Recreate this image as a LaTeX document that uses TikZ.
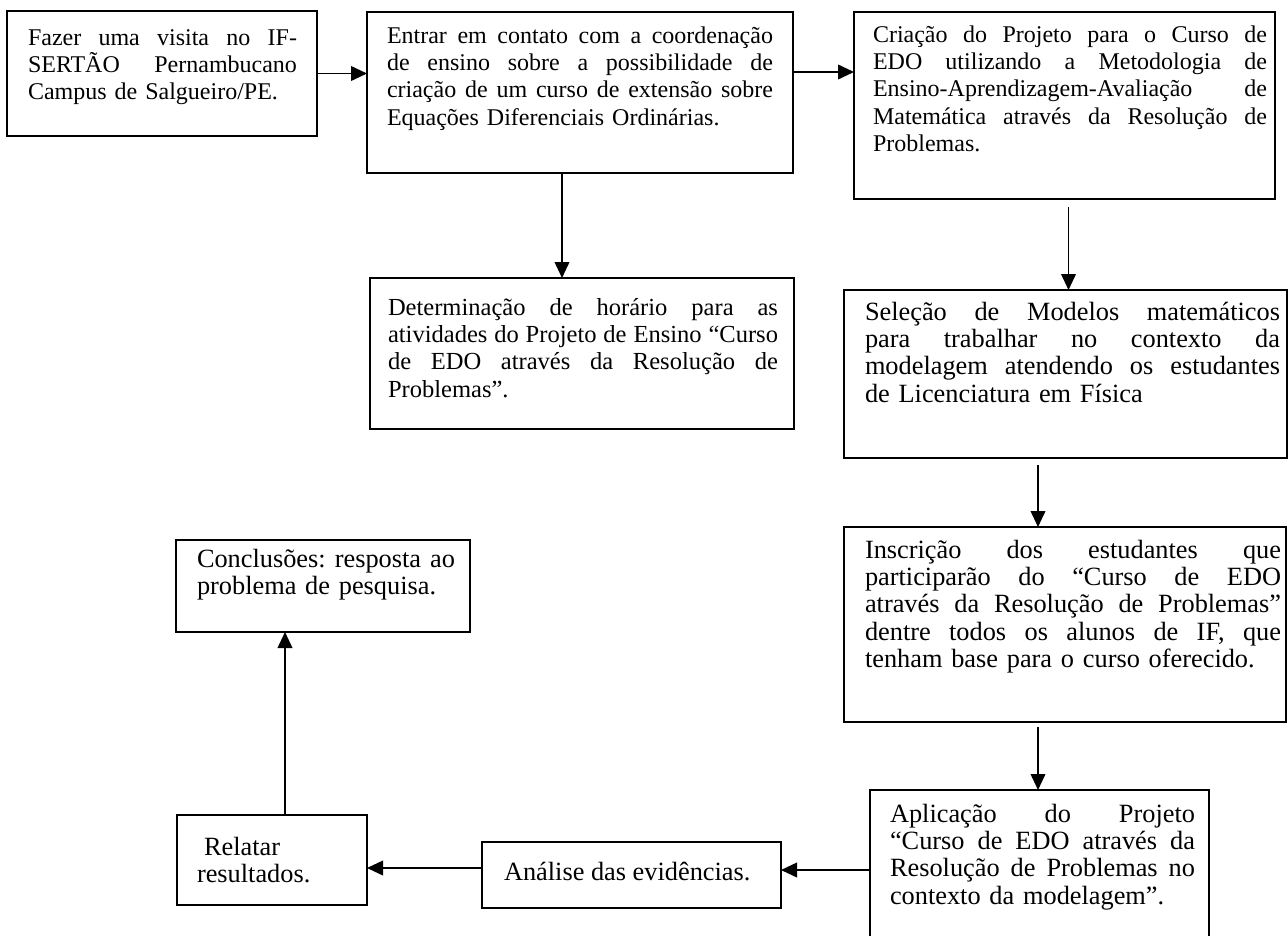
\documentclass[tikz,border=0pt]{standalone}
\usepackage{fontspec}
\setmainfont{Liberation Serif}
\usetikzlibrary{arrows.meta,calc}
\newdimen\px \px=0.75pt
% \tw holds the text width (in px) of the current box text
\def\tw{100}
% a justified line (extra room shared evenly by the spaces) and a last line
\newcommand\jline[1]{\hbox to \tw\px{\spaceskip=\fontdimen2\font plus 1fil\relax
  \xspaceskip=\spaceskip #1}\par}
\newcommand\lline[1]{\hbox{#1}\par}
\begin{document}
\begin{tikzpicture}[x=0.75pt,y=-0.75pt,
  stepbox/.style={draw,line width=1.5pt,inner sep=0pt,outer sep=0pt,anchor=north west},
  txt/.style={inner sep=0pt,outer sep=0pt,anchor=base west,
    font=\fontsize{19.75}{20.5}\selectfont\frenchspacing},
  txtsmall/.style={txt,font=\fontsize{18}{20.5}\selectfont\frenchspacing},
  tw/.style={text width=#1\px,execute at begin node={\def\tw{#1}}},
  arr/.style={line width=1.3pt,-{Triangle[length=12pt,width=11pt]}}]
\clip (0,0) rectangle (1288,935);

% boxes
\node[stepbox,minimum width=310\px,minimum height=125\px] (b1) at (7,11) {};
\node[stepbox,minimum width=426\px,minimum height=161\px] (b2) at (367,12) {};
\node[stepbox,minimum width=421\px,minimum height=187\px] (b3) at (854,12) {};
\node[stepbox,minimum width=424\px,minimum height=151\px] (b4) at (370,278) {};
\node[stepbox,minimum width=443\px,minimum height=168\px] (b5) at (844,290) {};
\node[stepbox,minimum width=442\px,minimum height=195\px] (b6) at (844,527) {};
\node[stepbox,minimum width=339\px,minimum height=180\px] (b7) at (870,790) {};
\node[stepbox,minimum width=299\px,minimum height=66\px] (b8) at (482,842) {};
\node[stepbox,minimum width=190\px,minimum height=90\px] (b9) at (177,815) {};
\node[stepbox,minimum width=294\px,minimum height=92\px] (b10) at (176,540) {};

% texts
\node[txtsmall,tw=269] (t1) at (28,45) {%
  \jline{Fazer uma visita no IF-}
  \jline{SERTÃO Pernambucano}
  \lline{Campus de Salgueiro/PE.}};
\node[txtsmall,tw=386] (t2) at (387,43) {%
  \jline{Entrar em contato com a coordenação}
  \jline{de ensino sobre a possibilidade de}
  \jline{criação de um curso de extensão sobre}
  \lline{Equações Diferenciais Ordinárias.}};
\node[txtsmall,tw=394] (t3) at (873,42) {%
  \jline{Criação do Projeto para o Curso de}
  \jline{EDO utilizando a Metodologia de}
  \jline{Ensino-Aprendizagem-Avaliação de}
  \jline{Matemática através da Resolução de}
  \lline{Problemas.}};
\node[txt,font=\fontsize{18.4}{20.5}\selectfont\frenchspacing,tw=390] (t4) at (388,315) {%
  \jline{Determinação de horário para as}
  \jline{atividades do Projeto de Ensino “Curso}
  \jline{de EDO através da Resolução de}
  \lline{Problemas”.}};
\node[txt,tw=415] (t5) at (865,320) {%
  \jline{Seleção de Modelos matemáticos}
  \jline{para trabalhar no contexto da}
  \jline{modelagem atendendo os estudantes}
  \lline{de Licenciatura em Física}};
\node[txt,tw=416] (t6) at (865,558) {%
  \jline{Inscrição dos estudantes que}
  \jline{participarão do “Curso de EDO}
  \jline{através da Resolução de Problemas”}
  \jline{dentre todos os alunos de IF, que}
  \lline{tenham base para o curso oferecido.}};
\node[txt,tw=305] (t7) at (890,822) {%
  \jline{Aplicação do Projeto}
  \jline{“Curso de EDO através da}
  \jline{Resolução de Problemas no}
  \lline{contexto da modelagem”.}};
\node[txt] (t8) at (504,880) {Análise das evidências.};
\node[txt,tw=160] (t9) at (197,855) {%
  \lline{\hspace*{7\px}Relatar}
  \lline{resultados.}};
\node[txt,tw=258] (t10) at (197,567) {%
  \jline{Conclusões: resposta ao}
  \lline{problema de pesquisa.}};

% connector end points
\coordinate (p23) at ($(b2.north east)+(0,60)$);
\coordinate (p24) at ($(b2.south)+(-18,0)$);
\coordinate (p35) at ($(b3.south)+(4,8)$);
\coordinate (p56) at ($(b5.south)+(-27.5,7)$);
\coordinate (p67) at ($(b6.south)+(-27,5)$);
\coordinate (p78) at ($(b7.north west)+(0,80)$);
\coordinate (p89) at ($(b8.north west)+(0,26)$);
\coordinate (p910) at ($(b9.north west)+(108,0)$);

% connectors
\draw[arr] (b1.east) -- (b1.east -| b2.west);
\draw[arr] (p23) -- (p23 -| b3.west);
\draw[arr] (p24) -- (p24 |- b4.north);
\draw[arr] (p35) -- (p35 |- b5.north);
\draw[arr] (p56) -- (p56 |- b6.north);
\draw[arr] (p67) -- (p67 |- b7.north);
\draw[arr] (p78) -- (p78 -| b8.east);
\draw[arr] (p89) -- (p89 -| b9.east);
\draw[arr] (p910) -- (p910 |- b10.south);
\end{tikzpicture}
\end{document}
